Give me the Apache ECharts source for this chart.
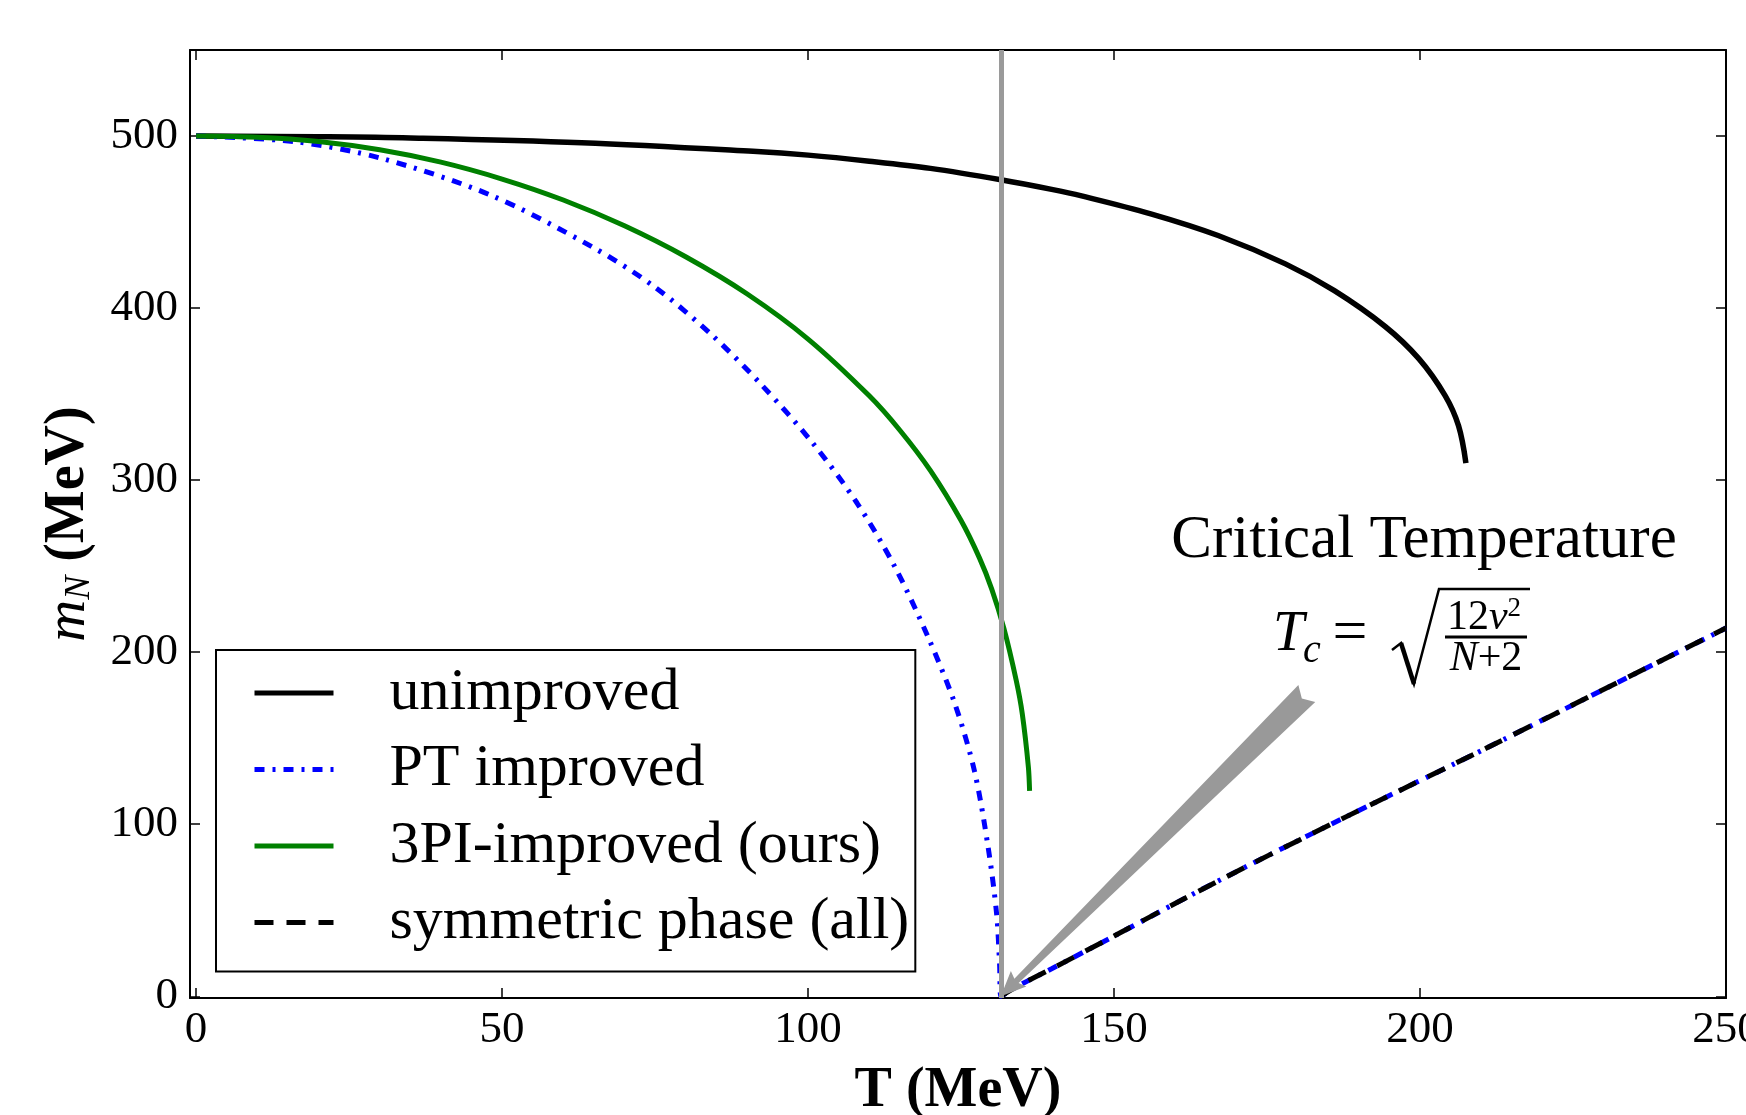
<!DOCTYPE html>
<html>
<head>
<meta charset="utf-8">
<script src="https://cdn.jsdelivr.net/npm/echarts@6/dist/echarts.min.js"></script>
<style>
  html, body { margin: 0; padding: 0; background: #fff; }
  #chart { width: 1746px; height: 1115px; }
</style>
</head>
<body>
<div id="chart"></div>
<script>
// critical temperature Tc = sqrt(12 v^2 / (N+2)), v = 93 MeV, N = 4
const Tc = 131.5;
const xTicks = [0, 50, 100, 150, 200, 250];
const yTicks = [0, 100, 200, 300, 400, 500];

const unimprovedT = [0, 20, 35, 63, 91, 100, 110, 120, 131.5, 139.8, 144.7, 156, 167, 178, 186, 194.3, 199.8, 204.1, 206.3, 207.5];
const unimprovedM = [500, 499.6, 498.9, 496.1, 491.1, 488.9, 485.4, 481.2, 474.6, 469, 465.2, 454.8, 442.2, 425.7, 410.1, 389.3, 370.6, 349.1, 331.5, 309.9];

const ptT = [0, 16.2, 30.3, 48.1, 64.5, 74.9, 84.3, 92.5, 100.8, 108, 114.1, 119.6, 124, 127.2, 129.4, 130.8, 131.3, 131.5,
             134.3, 139.8, 150, 161.6, 172.5, 188.3, 210.7, 250];
const ptM = [500, 496.7, 487, 465.7, 436, 412.4, 384.3, 355, 321.4, 286.7, 250.2, 208.9, 169.9, 130.8, 87.2, 48.3, 18.4, 0,
             6, 16, 35, 57, 77, 105, 144, 214];

const threePiT = [0, 10, 20, 30, 40, 50, 60, 70, 80, 90, 100, 110, 115, 120, 125, 128, 130, 132, 134, 135, 136, 136.2];
const threePiM = [500, 499.3, 496.8, 492, 484.8, 475, 462.8, 447.8, 429.8, 408.3, 382, 349, 329, 305.5, 276.5, 254.8, 236.8, 213.8, 183.8, 164.3, 133.3, 119.4];

const symT = [131.5, 134.3, 139.8, 150, 161.6, 172.5, 188.3, 210.7, 250];
const symM = [0, 6, 16, 35, 57, 77, 105, 144, 214];

// annotation arrow: from below the text down to (Tc, 0)
const arrowTail = [181.5, 176];
const arrowTip = [Tc, 0];

const serif = "'Liberation Serif', 'DejaVu Serif', serif";
const pairs = (xs, ys) => xs.map((x, i) => [x, ys[i]]);

const chart = echarts.init(document.getElementById('chart'));

const frameAxis = {
  axisLine: { show: true, onZero: false, lineStyle: { color: '#000', width: 2 } },
  splitLine: { show: false },
};

const option = {
  animation: false,
  backgroundColor: '#fff',
  grid: { left: 190, right: 20, top: 50, bottom: 117, outerBoundsMode: 'none' },
  legend: {
    orient: 'vertical',
    left: 216,
    top: 650,
    data: ['unimproved', 'PT improved', '3PI-improved (ours)', 'symmetric phase (all)'],
    itemWidth: 79,
    itemHeight: 14,
    itemGap: 14.5,
    padding: [12, 6, 18, 36],
    borderColor: '#000',
    borderWidth: 2,
    borderRadius: 0,
    backgroundColor: '#fff',
    selectedMode: false,
    itemStyle: { opacity: 0 },
    lineStyle: { width: 5 },
    textStyle: { fontFamily: serif, fontSize: 60, lineHeight: 62, color: '#000', padding: [0, 0, 0, 51] },
  },
  xAxis: [
    {
      type: 'value', min: -1, max: 250, ...frameAxis,
      axisTick: { inside: true, length: 10, customValues: xTicks, lineStyle: { color: '#000', width: 1.5 } },
      axisLabel: { customValues: xTicks, margin: 10, fontFamily: serif, fontSize: 45, color: '#000' },
      name: 'T (MeV)', nameLocation: 'middle', nameGap: 66,
      nameTextStyle: { fontFamily: serif, fontWeight: 'bold', fontSize: 56, color: '#000' },
    },
    {
      type: 'value', min: -1, max: 250, position: 'top', ...frameAxis,
      axisTick: { inside: true, length: 10, customValues: xTicks, lineStyle: { color: '#000', width: 1.5 } },
      axisLabel: { show: false },
    },
  ],
  yAxis: [
    {
      type: 'value', min: -1, max: 550, ...frameAxis,
      axisTick: { inside: true, length: 10, customValues: yTicks, lineStyle: { color: '#000', width: 1.5 } },
      axisLabel: { customValues: yTicks, margin: 12, fontFamily: serif, fontSize: 45, color: '#000' },
      name: '{i|m}{s|N}{b| (MeV)}', nameLocation: 'middle', nameGap: 92, nameRotate: 90,
      nameTextStyle: {
        color: '#000',
        rich: {
          i: { fontFamily: serif, fontStyle: 'italic', fontSize: 58 },
          s: { fontFamily: serif, fontStyle: 'italic', fontSize: 36, padding: [22, 0, 0, 0] },
          b: { fontFamily: serif, fontWeight: 'bold', fontSize: 56 },
        },
      },
    },
    {
      type: 'value', min: -1, max: 550, position: 'right', ...frameAxis,
      axisTick: { inside: true, length: 10, customValues: yTicks, lineStyle: { color: '#000', width: 1.5 } },
      axisLabel: { show: false },
    },
  ],
  series: [
    {
      name: 'unimproved', type: 'line', data: pairs(unimprovedT, unimprovedM),
      symbol: 'none', smooth: 0.35, lineStyle: { color: '#000', width: 5.5 }, itemStyle: { color: '#000' },
      markLine: {
        silent: true, symbol: 'none', label: { show: false },
        lineStyle: { color: '#9a9a9a', width: 5, type: 'solid' },
        data: [{ xAxis: Tc }],
      },
    },
    {
      name: 'PT improved', type: 'line', data: pairs(ptT, ptM),
      symbol: 'none', smooth: 0.3, lineStyle: { color: '#0000ff', width: 5, type: [10, 8, 3, 8] }, itemStyle: { color: '#0000ff' },
    },
    {
      name: '3PI-improved (ours)', type: 'line', data: pairs(threePiT, threePiM),
      symbol: 'none', smooth: 0.3, lineStyle: { color: '#008000', width: 5 }, itemStyle: { color: '#008000' },
    },
    {
      name: 'symmetric phase (all)', type: 'line', data: pairs(symT, symM),
      symbol: 'none', smooth: 0.2, lineStyle: { color: '#000', width: 5, type: [19, 13] }, itemStyle: { color: '#000' },
    },
  ],
  graphic: [
    {
      type: 'text', x: 1424, y: 541,
      style: { text: 'Critical Temperature', fontFamily: serif, fontSize: 61, fill: '#000', align: 'center', verticalAlign: 'middle' },
    },
    {
      type: 'group',
      children: [
        { type: 'text', x: 1273, y: 635, style: { text: 'T', fontFamily: serif, fontStyle: 'italic', fontSize: 56, fill: '#000', align: 'left', verticalAlign: 'middle' } },
        { type: 'text', x: 1303, y: 651, style: { text: 'c', fontFamily: serif, fontStyle: 'italic', fontSize: 40, fill: '#000', align: 'left', verticalAlign: 'middle' } },
        { type: 'text', x: 1350, y: 635, style: { text: '=', fontFamily: serif, fontSize: 62, fill: '#000', align: 'center', verticalAlign: 'middle' } },
        { type: 'polyline', shape: { points: [[1392, 650], [1401, 643], [1414, 684], [1439, 589], [1530, 589]] }, style: { stroke: '#000', lineWidth: 2.5, fill: null } },
        { type: 'line', shape: { x1: 1401, y1: 643, x2: 1414, y2: 684 }, style: { stroke: '#000', lineWidth: 4.5 } },
        {
          type: 'text', x: 1484, y: 618,
          style: {
            text: '{u|12}{i|v}{p|2}', align: 'center', verticalAlign: 'middle', fill: '#000',
            rich: {
              u: { fontFamily: serif, fontSize: 42 },
              i: { fontFamily: serif, fontStyle: 'italic', fontSize: 42 },
              p: { fontFamily: serif, fontSize: 27, padding: [0, 0, 18, 0] },
            },
          },
        },
        { type: 'line', shape: { x1: 1445, y1: 637, x2: 1527, y2: 637 }, style: { stroke: '#000', lineWidth: 3 } },
        {
          type: 'text', x: 1486, y: 659,
          style: {
            text: '{i|N}{u|+2}', align: 'center', verticalAlign: 'middle', fill: '#000',
            rich: {
              u: { fontFamily: serif, fontSize: 42 },
              i: { fontFamily: serif, fontStyle: 'italic', fontSize: 42 },
            },
          },
        },
      ],
    },
  ],
};

chart.setOption(option);

// wedge-shaped annotation arrow, placed through the axes
const tip = chart.convertToPixel({ seriesIndex: 0 }, arrowTip);
const tail = chart.convertToPixel({ seriesIndex: 0 }, arrowTail);
const dx = tip[0] - tail[0], dy = tip[1] - tail[1];
const L = Math.hypot(dx, dy);
const ux = dx / L, uy = dy / L, nx = -uy, ny = ux;
const P = (a, b) => [tail[0] + ux * a + nx * b, tail[1] + uy * a + ny * b];

chart.setOption({
  graphic: [
    {
      id: 'arrow', type: 'polygon', z: 50,
      shape: { points: [P(0, 12), P(L - 22, 3), P(L - 25, 11), P(L, 0), P(L - 25, -11), P(L - 22, -3), P(0, -12), P(7, 0)] },
      style: { fill: '#999999', stroke: null },
    },
  ],
});

window.addEventListener('resize', () => chart.resize());
</script>
</body>
</html>
